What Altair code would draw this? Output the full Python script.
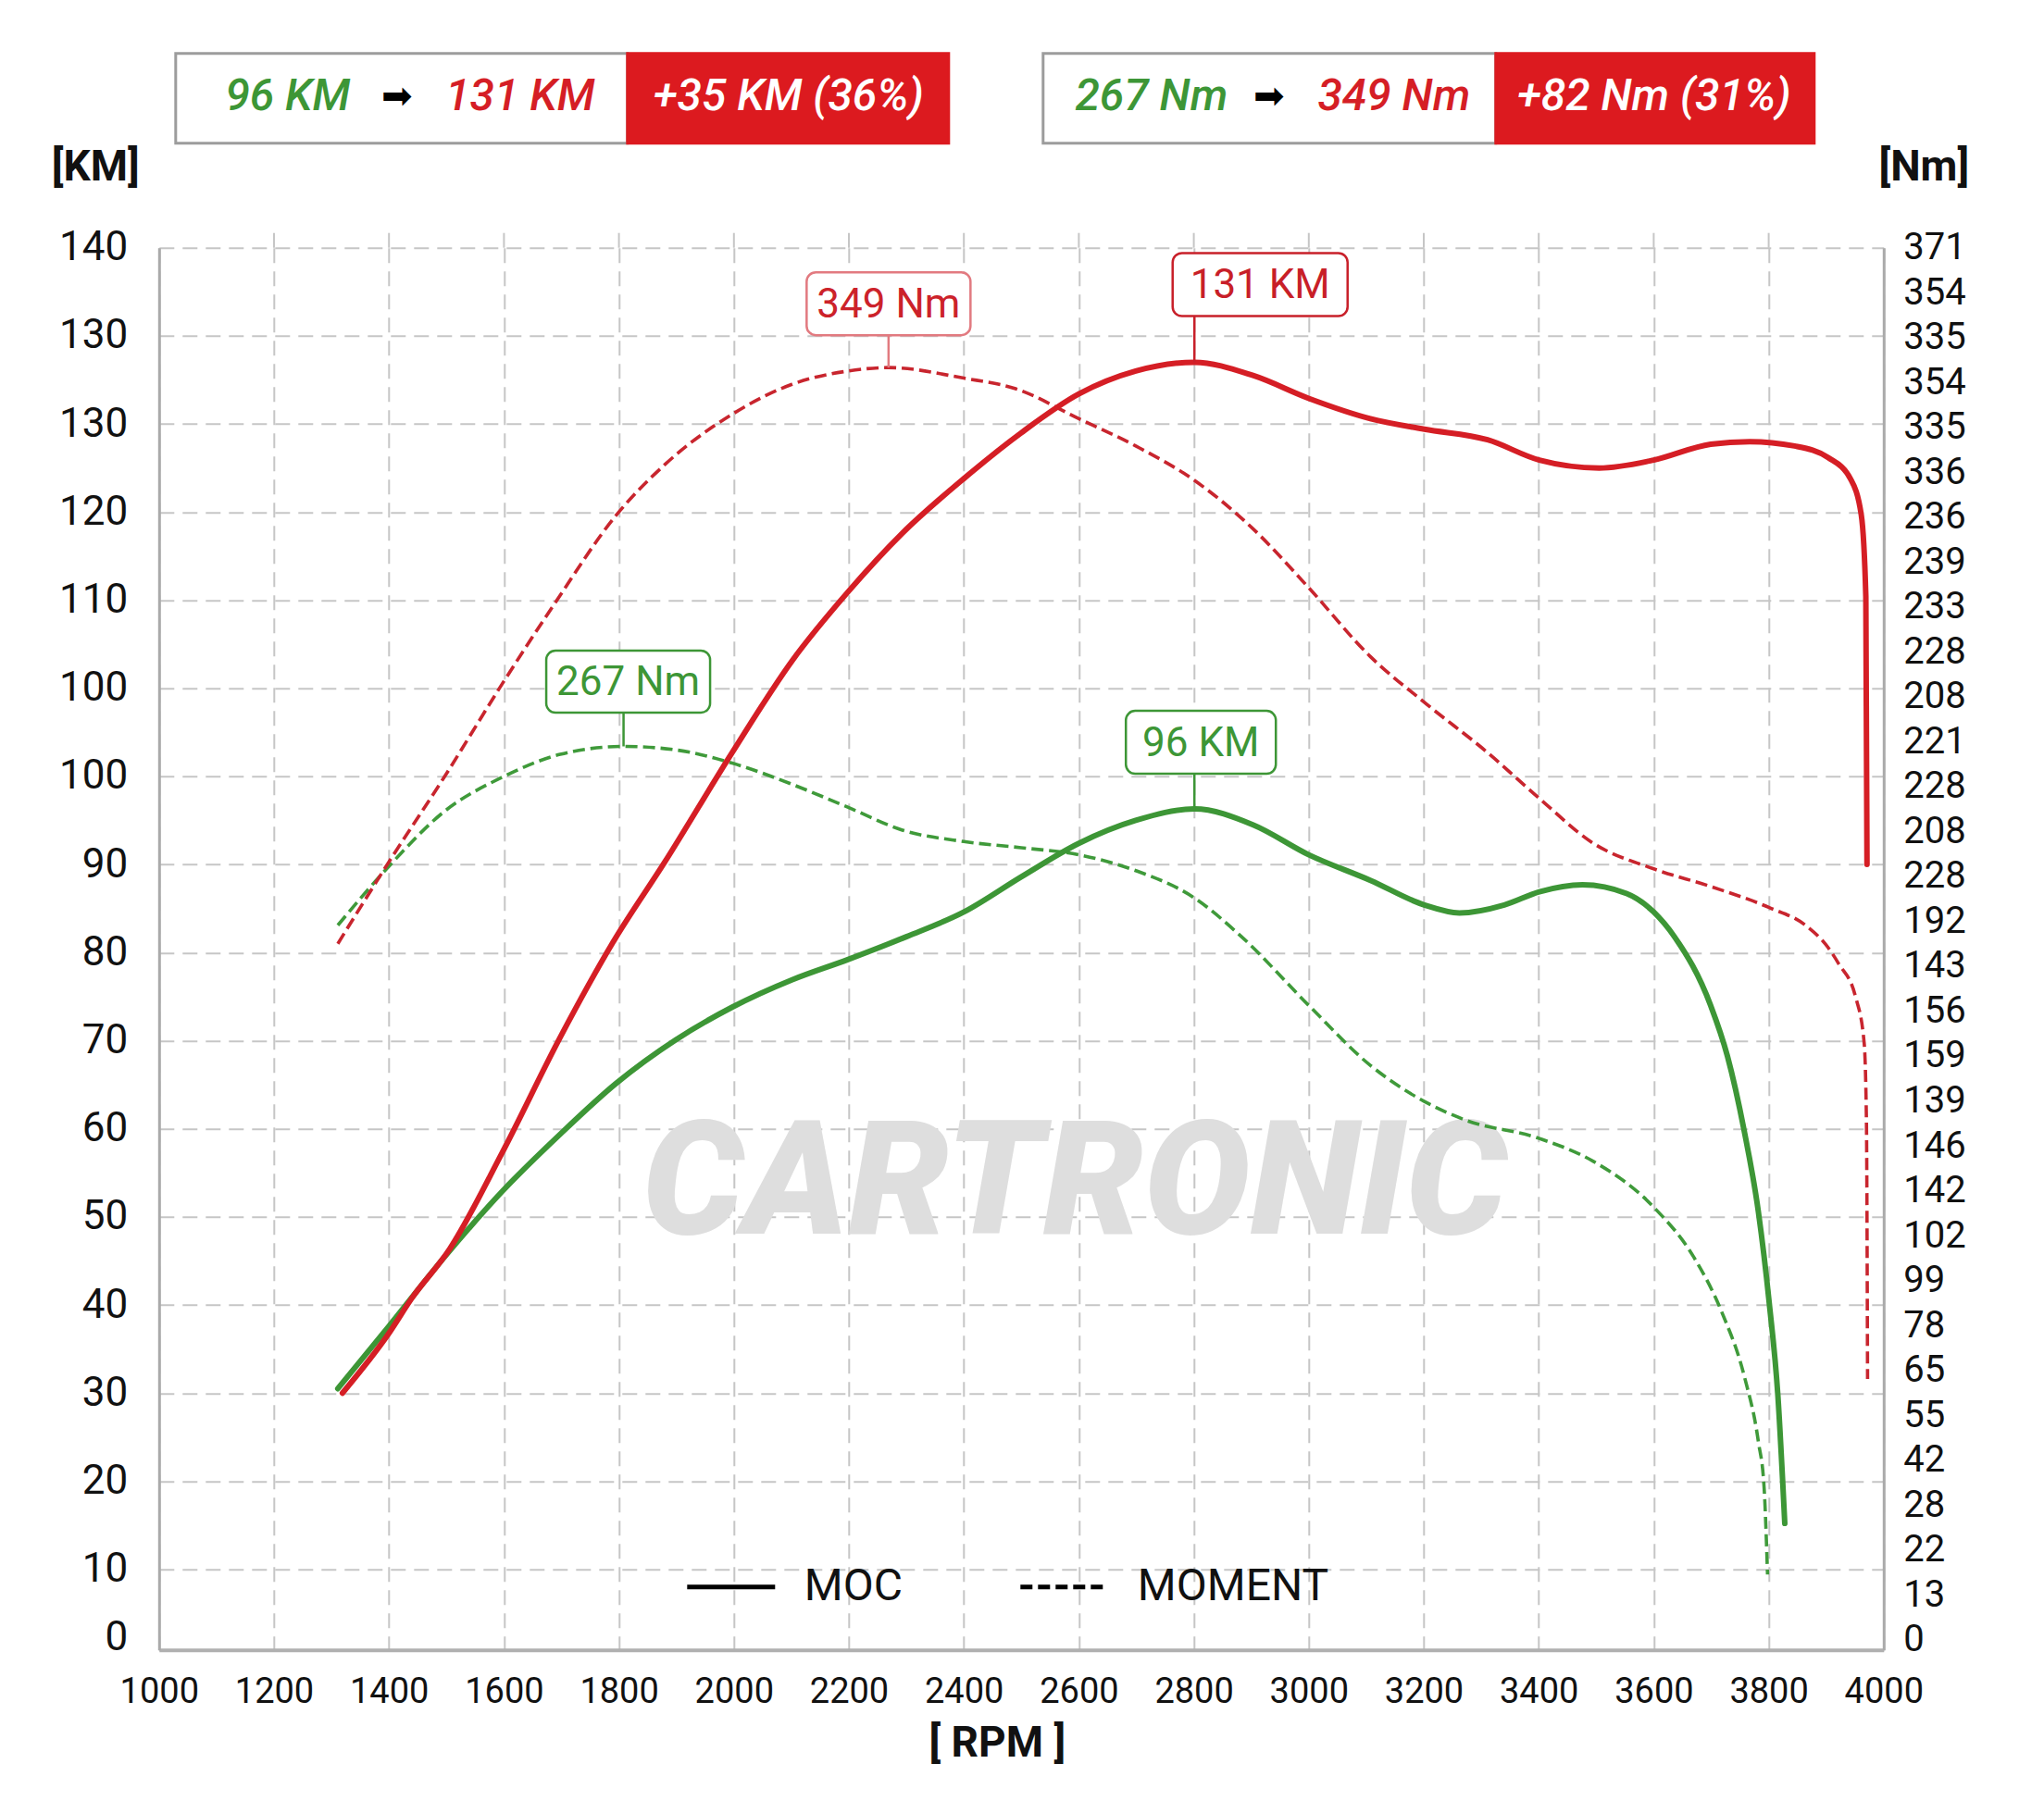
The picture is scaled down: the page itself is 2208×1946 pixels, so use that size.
import altair as alt
import pandas as pd

# ---------------- data ----------------
# y values are in chart-position units: gridline k (from the bottom) sits at 10*k
power_stock_rpm = [1311, 1400, 1496, 1597, 1698, 1796, 1899, 1997, 2101, 2198, 2300, 2400, 2500, 2600,
                   2699, 2801, 2903, 3000, 3107, 3201, 3262, 3340, 3401, 3476, 3553, 3600, 3636, 3699,
                   3728, 3757, 3782, 3801, 3816, 3828]
power_stock_val = [30.5, 37.6, 45.4, 52.9, 59.4, 65.2, 70.1, 73.8, 76.9, 79.2, 81.8, 84.6, 88.6, 92.4,
                   95.0, 96.3, 94.5, 91.1, 88.2, 85.4, 84.5, 85.4, 86.9, 87.7, 86.7, 84.6, 81.8, 74.0,
                   68.3, 59.9, 50.6, 40.2, 29.7, 15.2]

power_tuned_rpm = [1319, 1400, 1439, 1506, 1597, 1698, 1790, 1880, 1997, 2101, 2198, 2293, 2400, 2500,
                   2600, 2699, 2801, 2903, 3000, 3107, 3201, 3311, 3401, 3505, 3600, 3699, 3767, 3845,
                   3903, 3942, 3961, 3969, 3971]
power_tuned_val = [30.0, 36.8, 40.7, 46.4, 57.3, 70.4, 81.2, 90.3, 102.7, 113.1, 120.9, 127.6, 133.8, 139.0,
                   143.4, 146.0, 147.0, 145.5, 142.9, 140.6, 139.4, 138.2, 135.9, 135.0, 135.9, 137.7, 138.0, 137.5,
                   136.2, 133.8, 129.7, 120.4, 90.0]

torque_stock_rpm = [1311, 1400, 1496, 1597, 1698, 1808, 1899, 1997, 2101, 2198, 2293, 2400, 2500, 2600,
                    2699, 2801, 2883, 3000, 3107, 3201, 3272, 3401, 3495, 3600, 3670, 3719, 3758, 3782,
                    3792, 3798]
torque_stock_val = [83.1, 89.8, 96.0, 99.9, 102.5, 103.4, 103.0, 101.5, 99.1, 96.5, 93.9, 92.6, 91.9, 91.1,
                    89.3, 86.2, 81.8, 74.0, 67.2, 63.1, 61.0, 58.9, 56.3, 51.1, 45.4, 39.1, 31.8, 24.5,
                    19.3, 9.4]

torque_tuned_rpm = [1311, 1400, 1496, 1597, 1688, 1796, 1880, 1997, 2101, 2198, 2269, 2400, 2490, 2600,
                    2699, 2801, 2903, 3000, 3107, 3201, 3311, 3401, 3495, 3600, 3699, 3801, 3864, 3903,
                    3922, 3951, 3966, 3970, 3972]
torque_tuned_val = [81.0, 90.3, 99.9, 110.5, 119.6, 129.7, 135.4, 141.1, 144.5, 146.0, 146.4, 145.2, 144.0, 140.6,
                    137.5, 133.6, 128.1, 121.4, 113.6, 108.4, 102.7, 97.5, 92.4, 89.5, 87.5, 85.1, 83.1, 80.6,
                    78.7, 75.0, 69.8, 61.0, 31.6]

left_labels = ["0", "10", "20", "30", "40", "50", "60", "70", "80", "90", "100", "100",
               "110", "120", "130", "130", "140"]                      # bottom -> top
right_labels = ["371", "354", "335", "354", "335", "336", "236", "239", "233", "228", "208",
                "221", "228", "208", "228", "192", "143", "156", "159", "139", "146", "142",
                "102", "99", "78", "65", "55", "42", "28", "22", "13", "0"]  # top -> bottom
x_ticks = list(range(1000, 4001, 200))

header_texts = ["96 KM", "131 KM", "+35 KM (36%)", "267 Nm", "349 Nm", "+82 Nm (31%)"]
annot_texts = ["349 Nm", "131 KM", "267 Nm", "96 KM"]
annot_series = ["torque_tuned", "power_tuned", "torque_stock", "power_stock"]
legend_names = ["MOC", "MOMENT"]

# ---------------- layout / style ----------------
W, H = 1863, 1515
VMIN, VMAX = 0.85, 160
PX_RPM = W / 3000.0
PX_V = H / (VMAX - VMIN)
GREEN, GREEN_D = "#3d9636", "#3f9a3a"
RED, RED_D = "#d51e25", "#c8252e"
FONT = "Roboto"
TXT = "#111111"
GRID_C = "#c6c6c6"
GRID_DASH = [16, 9]
LINE_DASH = [13, 6]

series = [
    ("power_stock", "MOC", power_stock_rpm, power_stock_val),
    ("power_tuned", "MOC", power_tuned_rpm, power_tuned_val),
    ("torque_stock", "MOMENT", torque_stock_rpm, torque_stock_val),
    ("torque_tuned", "MOMENT", torque_tuned_rpm, torque_tuned_val),
]
rows = []
for name, kind, rr, vv in series:
    for r, v in zip(rr, vv):
        rows.append({"rpm": r, "v": v, "line": name, "kind": kind})
df = pd.DataFrame(rows)

x_scale = alt.Scale(domain=[1000, 4000], nice=False, zero=False)
y_scale = alt.Scale(domain=[VMIN, VMAX], nice=False, zero=False)

left_expr = "[" + ",".join(f"'{s}'" for s in left_labels) + "][round(datum.value / 10)]"
right_expr = "[" + ",".join(f"'{s}'" for s in right_labels) + "][31 - round(datum.value)]"

grid_kw = dict(grid=True, gridColor=GRID_C, gridDash=GRID_DASH, gridWidth=2)

x_axis = alt.Axis(
    values=x_ticks, format="d", title="[ RPM ]", labelFont=FONT, labelFontSize=38,
    labelColor=TXT, labelPadding=27, labelFlush=False, labelOverlap=False,
    ticks=False, tickSize=0, domainColor="#b0b0b0", domainWidth=4,
    titleFont=FONT, titleFontSize=46, titleFontWeight="bold", titleColor=TXT,
    titleX=905, titleY=101, titleAlign="center", titleBaseline="middle", **grid_kw)
y_axis = alt.Axis(
    values=[VMIN] + list(range(10, 161, 10)), labelExpr=left_expr, title="[KM]",
    labelFont=FONT, labelFontSize=44, labelColor=TXT, labelPadding=34,
    labelFlush=False, labelOverlap=False, ticks=False, tickSize=0,
    labelBaseline={"condition": {"test": "datum.value < 5", "value": "alphabetic"}, "value": "middle"},
    domainColor="#aaaaaa", domainWidth=3,
    titleFont=FONT, titleFontSize=46, titleFontWeight="bold", titleColor=TXT, titleAngle=0,
    titleX=-69, titleY=-87, titleAlign="center", titleBaseline="middle", **grid_kw)

color_enc = alt.Color("line:N", legend=None, scale=alt.Scale(
    domain=["power_stock", "power_tuned", "torque_stock", "torque_tuned"],
    range=[GREEN, RED, GREEN_D, RED_D]))

# vertical grid stubs above the plot top
stub_df = pd.DataFrame({"rpm": x_ticks[1:-1]})
stubs = alt.Chart(stub_df).transform_calculate(
    y0=f"{VMAX}", y1=f"{VMAX + 25 / PX_V}"
).mark_rule(color=GRID_C, strokeWidth=2, strokeDash=GRID_DASH).encode(
    x=alt.X("rpm:Q", scale=x_scale, axis=x_axis),
    y=alt.Y("y0:Q", scale=y_scale, axis=y_axis), y2="y1:Q")

dashed = alt.Chart(df).transform_filter("datum.kind == 'MOMENT'").mark_line(
    interpolate="monotone", strokeWidth=3.6, strokeDash=LINE_DASH, strokeCap="butt", strokeJoin="round"
).encode(x=alt.X("rpm:Q", scale=x_scale), y=alt.Y("v:Q", scale=y_scale), color=color_enc)

solid = alt.Chart(df).transform_filter("datum.kind == 'MOC'").mark_line(
    interpolate="monotone", strokeWidth=6, strokeCap="round", strokeJoin="round"
).encode(x=alt.X("rpm:Q", scale=x_scale), y=alt.Y("v:Q", scale=y_scale), color=color_enc)

# legend only (no visible marks of its own)
legend_layer = alt.Chart(df).transform_filter("false").mark_line(
    color="black", strokeWidth=5
).encode(
    x=alt.X("rpm:Q", scale=x_scale), y=alt.Y("v:Q", scale=y_scale),
    strokeDash=alt.StrokeDash(
        "kind:N", scale=alt.Scale(domain=legend_names, range=[[1, 0], LINE_DASH]),
        legend=alt.Legend(
            title=None, orient="none", legendX=568, legendY=1397,
            direction="horizontal", symbolType="stroke", symbolSize=9025,
            symbolStrokeWidth=5, symbolStrokeColor="black",
            labelFont=FONT, labelFontSize=48, labelColor=TXT,
            labelOffset=29, columnPadding=116, padding=0, labelLimit=500)))

# ---------------- peak annotations ----------------
annot_dx = [0, 71, 5, 7]
annot_dy = [-69, -84, -70, -72]
annot_w = [177, 189, 177, 162]
annot_h = [68, 68, 67, 68]
annot_stroke = ["#e27a80", "#c8202a", GREEN, GREEN]
annot_color = ["#cc222a", "#c81f28", GREEN, GREEN]
lookup = {name: (rr, vv) for name, _, rr, vv in series}
arows = []
for i, t in enumerate(annot_texts):
    rr, vv = lookup[annot_series[i]]
    k = max(range(len(vv)), key=lambda j: vv[j])
    pr, pv = rr[k], vv[k]
    cr = pr + annot_dx[i] / PX_RPM
    cv = pv - annot_dy[i] / PX_V
    hw = annot_w[i] / 2 / PX_RPM
    hh = annot_h[i] / 2 / PX_V
    arows.append({"text": t, "pr": pr, "pv": pv, "cr": cr, "cv": cv,
                  "x0": cr - hw, "x1": cr + hw, "y0": cv - hh, "y1": cv + hh,
                  "stroke": annot_stroke[i], "tcolor": annot_color[i]})
adf = pd.DataFrame(arows)

conn = alt.Chart(adf).mark_rule(strokeWidth=2.5).encode(
    x=alt.X("pr:Q", scale=x_scale), y=alt.Y("pv:Q", scale=y_scale), y2="y0:Q",
    stroke=alt.Stroke("stroke:N", scale=None))
boxes = alt.Chart(adf).mark_rect(fill="white", strokeWidth=2.5, cornerRadius=10).encode(
    x=alt.X("x0:Q", scale=x_scale), x2="x1:Q", y=alt.Y("y0:Q", scale=y_scale), y2="y1:Q",
    stroke=alt.Stroke("stroke:N", scale=None))
btext = alt.Chart(adf).mark_text(font=FONT, fontSize=44, align="center", baseline="middle", dy=2).encode(
    x=alt.X("cr:Q", scale=x_scale), y=alt.Y("cv:Q", scale=y_scale), text="text:N",
    fill=alt.Fill("tcolor:N", scale=None))

inner = alt.layer(stubs, dashed, solid, legend_layer, conn, boxes, btext)

# ---------------- right axis ----------------
rdf = pd.DataFrame({"k": list(range(len(right_labels)))})
right = alt.Chart(rdf).mark_point(opacity=0).encode(
    y=alt.Y("k:Q", scale=alt.Scale(domain=[-0.227, 31], nice=False, zero=False), axis=alt.Axis(
        orient="right", values=list(range(32)), labelExpr=right_expr, title="[Nm]",
        labelFont=FONT, labelFontSize=40, labelColor=TXT, labelPadding=21, labelAlign="left",
        labelFlush=False, labelOverlap=False, ticks=False, tickSize=0, grid=False,
        domainColor="#aaaaaa", domainWidth=3,
        titleFont=FONT, titleFontSize=46, titleFontWeight="bold", titleColor=TXT, titleAngle=0,
        titleX=43, titleY=-87, titleAlign="center", titleBaseline="middle")))

# ---------------- header + watermark (pixel-space decoration) ----------------
hb_x0 = [18, 506, 955, 1444]
hb_x1 = [506, 853, 1444, 1788]
hb_fill = ["white", "#dc1a1f", "white", "#dc1a1f"]
hb_stroke = ["#9c9c9c", "#dc1a1f", "#9c9c9c", "#dc1a1f"]
hdf = pd.DataFrame({"x0": hb_x0, "x1": hb_x1, "y0": [-210] * 4, "y1": [-113] * 4,
                    "fill": hb_fill, "stroke": hb_stroke})
hboxes = alt.Chart(hdf).mark_rect(strokeWidth=3).encode(
    x=alt.X("x0:Q", scale=None, axis=None), x2="x1:Q",
    y=alt.Y("y0:Q", scale=None, axis=None), y2="y1:Q",
    fill=alt.Fill("fill:N", scale=None), stroke=alt.Stroke("stroke:N", scale=None))

ht_x = [139, 390, 680, 1072, 1334, 1615]
ht_color = [GREEN, RED, "white", GREEN, RED, "white"]
htdf = pd.DataFrame({"x": ht_x, "y": [-163] * 6, "text": header_texts, "c": ht_color})
htext = alt.Chart(htdf).mark_text(font=FONT, fontSize=48, fontStyle="italic", fontWeight=500,
                                  align="center", baseline="middle").encode(
    x=alt.X("x:Q", scale=None, axis=None), y=alt.Y("y:Q", scale=None, axis=None),
    text="text:N", fill=alt.Fill("c:N", scale=None))

ardf = pd.DataFrame({"x": [257, 1199], "y": [-163, -163], "text": ["\u27a1", "\u27a1"]})
arrows = alt.Chart(ardf).mark_text(font="DejaVu Sans", fontSize=40, color="black",
                                   align="center", baseline="middle").encode(
    x=alt.X("x:Q", scale=None, axis=None), y=alt.Y("y:Q", scale=None, axis=None), text="text:N")

wdf = pd.DataFrame({"x": [989], "y": [1013], "text": ["CARTRONIC"]})
wmark = alt.Chart(wdf).mark_text(font=FONT, fontSize=172, fontStyle="italic", fontWeight=900,
                                 color="#dedede", align="center", baseline="middle").encode(
    x=alt.X("x:Q", scale=None, axis=None), y=alt.Y("y:Q", scale=None, axis=None), text="text:N")

decor = alt.layer(wmark, hboxes, htext, arrows)

chart = alt.layer(decor, inner, right).resolve_scale(
    x="independent", y="independent"
).properties(
    width=W, height=H,
    autosize=alt.AutoSizeParams(type="none"),
    padding={"left": 163.8, "top": 259.7, "right": 165.2, "bottom": 155.3},
    background="white",
).configure_view(stroke=None)

chart.save("out.html", embed_options={"renderer": "svg", "actions": False})
